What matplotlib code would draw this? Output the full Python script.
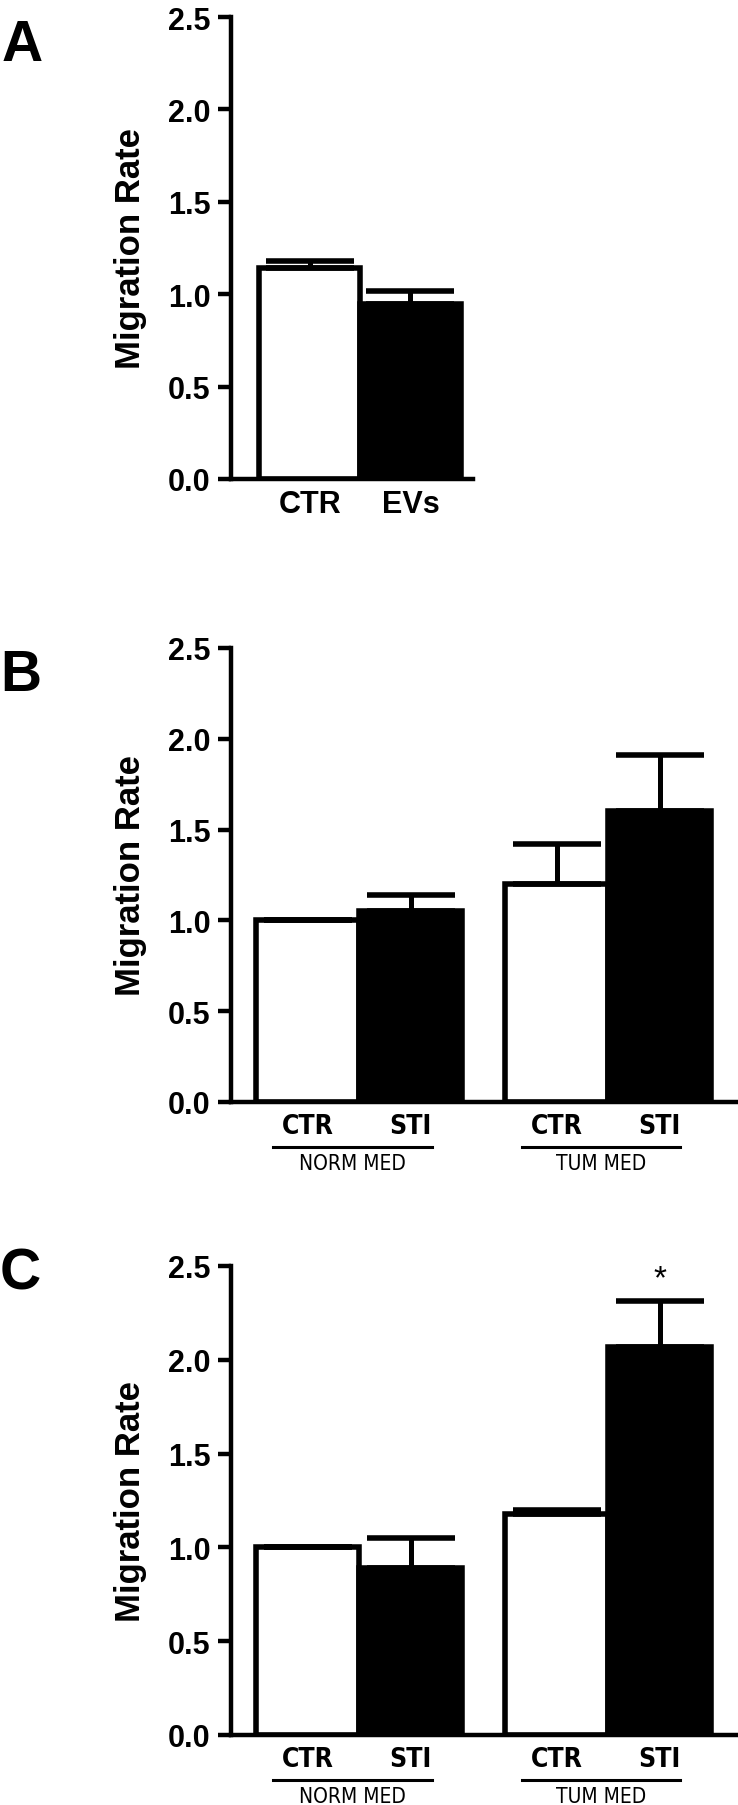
import matplotlib
matplotlib.use('Agg')
import matplotlib.pyplot as plt
import matplotlib.transforms as mtransforms

# Data
a_labels = ["CTR", "EVs"]
a_means = [1.14, 0.945]
a_err = [0.04, 0.075]

b_labels = ["CTR", "STI", "CTR", "STI"]
b_means = [1.00, 1.05, 1.20, 1.60]
b_err = [0.0, 0.09, 0.22, 0.31]

c_labels = ["CTR", "STI", "CTR", "STI"]
c_means = [1.00, 0.89, 1.18, 2.07]
c_err = [0.0, 0.16, 0.02, 0.245]

group_names = ["NORM MED", "TUM MED"]
bar_colors = ["white", "black", "white", "black"]

plt.rcParams['font.family'] = ['Liberation Sans', 'DejaVu Sans']
narrow = ['DejaVu Sans']

W, H = 738, 1806
fig = plt.figure(figsize=(W / 100, H / 100), dpi=100)


def px_axes(left, top, right, bottom):
    # pixel box -> figure fraction
    return fig.add_axes([left / W, 1 - bottom / H, (right - left) / W, (bottom - top) / H])


def style_axes(ax):
    ax.spines['top'].set_visible(False)
    ax.spines['right'].set_visible(False)
    for s in ['left', 'bottom']:
        ax.spines[s].set_linewidth(3.2)
    ax.set_ylim(0, 2.5)
    ax.set_yticks([0, 0.5, 1.0, 1.5, 2.0, 2.5])
    ax.set_yticklabels(["0.0", "0.5", "1.0", "1.5", "2.0", "2.5"])
    ax.tick_params(axis='y', length=9.5, width=3.2, pad=5, labelsize=22)
    for t in ax.get_yticklabels():
        t.set_fontweight('bold')
    ax.set_ylabel("Migration Rate", fontsize=25, fontweight='bold')


def draw_bars(ax, x, means, err):
    ax.bar(x, means, width=1.0, color=bar_colors[:len(x)], edgecolor='black',
           linewidth=4, zorder=2)
    ax.errorbar(x, means, yerr=[[0] * len(err), err], fmt='none', ecolor='black',
                elinewidth=3.6, capsize=32, capthick=4, zorder=3)


# ---- Panel A ----
axA = px_axes(231, 18, 473, 480)
xa = [0, 1]
draw_bars(axA, xa, a_means, a_err)
style_axes(axA)
axA.set_xlim(-0.78, 1.62)
axA.set_xticks(xa)
axA.set_xticklabels(a_labels, fontsize=22, fontweight='bold')
axA.tick_params(axis='x', length=0, pad=7)
axA.yaxis.set_label_coords(-84 / 242, 0.5)
fig.text(2 / W, 1 - 61 / H, "A", fontsize=41, fontweight='bold')

# ---- Panels B and C ----
xg = [0, 1, 2.42, 3.42]
groups = [(-0.34, 1.21), (2.08, 3.62)]


def grouped_panel(top, bottom, means, err, labels, letter, letter_base):
    ax = px_axes(231, top, 737, bottom)
    draw_bars(ax, xg, means, err)
    style_axes(ax)
    ax.set_xlim(-0.743, 4.17)
    ax.set_xticks(xg)
    ax.set_xticklabels(labels, fontsize=19, family=narrow, fontstretch='condensed',
                       fontweight='semibold')
    ax.tick_params(axis='x', length=0, pad=8)
    ax.yaxis.set_label_coords(-84 / 506, 0.5)
    base = mtransforms.blended_transform_factory(ax.transData, ax.transAxes)
    line_tr = base + mtransforms.ScaledTranslation(0, -0.45, fig.dpi_scale_trans)
    text_tr = base + mtransforms.ScaledTranslation(0, -0.61, fig.dpi_scale_trans)
    for (g0, g1), name in zip(groups, group_names):
        ax.plot([g0, g1], [0, 0], color='black', linewidth=2.2,
                transform=line_tr, clip_on=False)
        ax.text((g0 + g1) / 2, 0, name, transform=text_tr, ha='center', va='center',
                fontsize=15, family=narrow, fontstretch='condensed')
    fig.text(0 / W, 1 - letter_base / H, letter, fontsize=41, fontweight='bold')
    return ax


axB = grouped_panel(649, 1103, b_means, b_err, b_labels, "B", 691)
axC = grouped_panel(1267, 1736, c_means, c_err, c_labels, "C", 1289)
axC.text(xg[3], 2.43, "*", ha='center', va='center', fontsize=24)

fig.savefig("out.png", dpi=100)
